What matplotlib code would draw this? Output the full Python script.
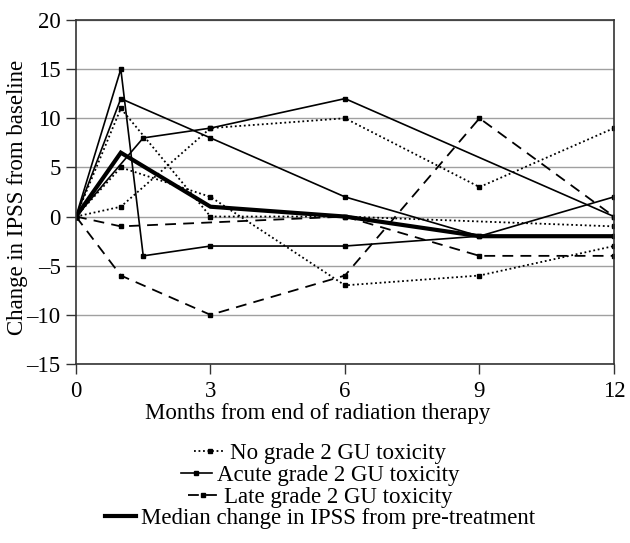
import matplotlib
matplotlib.use("Agg")
import matplotlib.pyplot as plt
from matplotlib.lines import Line2D

plt.rcParams['font.family'] = ['Liberation Serif', 'DejaVu Serif']

# ---- data ----
no_tox_1_x = [0, 1, 3, 6, 12]
no_tox_1_y = [0, 11, 0, 0, -1]
no_tox_2_x = [0, 1, 3, 6, 9, 12]
no_tox_2_y = [0, 5, 2, -7, -6, -3]
no_tox_3_x = [0, 1, 3, 6, 9, 12]
no_tox_3_y = [0, 1, 9, 10, 3, 9]

acute_1_x = [0, 1, 1.5, 3, 6, 9, 12]
acute_1_y = [0, 15, -4, -3, -3, -2, 2]
acute_2_x = [0, 1, 3, 6, 9, 12]
acute_2_y = [0, 12, 8, 2, -2, -2]
acute_3_x = [0, 1.5, 3, 6, 12]
acute_3_y = [0, 8, 9, 12, 0]

late_1_x = [0, 1, 3, 6, 9, 12]
late_1_y = [0, -6, -10, -6, 10, 0]
late_2_x = [0, 1, 6, 9, 12]
late_2_y = [0, -1, 0, -4, -4]

median_x = [0, 1, 3, 6, 9, 12]
median_y = [0, 6.5, 1, 0, -2, -2]

x_ticks = [0, 3, 6, 9, 12]
y_ticks = [-15, -10, -5, 0, 5, 10, 15, 20]
labels = ["No grade 2 GU toxicity", "Acute grade 2 GU toxicity",
          "Late grade 2 GU toxicity", "Median change in IPSS from pre-treatment"]

FS = 16.5

fig = plt.figure(figsize=(6.3, 5.43), dpi=100)
ax = fig.add_axes([0.1206, 0.3297, 0.854, 0.6335])

dot_style = dict(color='black', lw=1.3, linestyle=(0, (1, 1.5)), marker='s', ms=2.8)
sol_style = dict(color='black', lw=1.2, linestyle='-', marker='s', ms=2.8)
dash_style = dict(color='black', lw=1.3, linestyle=(0, (6, 4)), marker='s', ms=2.8)
med_style = dict(color='black', lw=3.0)

for xs, ys in [(no_tox_1_x, no_tox_1_y), (no_tox_2_x, no_tox_2_y), (no_tox_3_x, no_tox_3_y)]:
    ax.plot(xs, ys, **dot_style)
for xs, ys in [(acute_1_x, acute_1_y), (acute_2_x, acute_2_y), (acute_3_x, acute_3_y)]:
    ax.plot(xs, ys, **sol_style)
for xs, ys in [(late_1_x, late_1_y), (late_2_x, late_2_y)]:
    ax.plot(xs, ys, **dash_style)
ax.plot(median_x, median_y, solid_joinstyle='miter', **med_style)

ax.set_xlim(0, 12)
ax.set_ylim(-15, 20)
ax.set_xticks(x_ticks)
ax.set_yticks(y_ticks)
ax.set_yticklabels([str(v).replace('-', '\u2013') for v in y_ticks])
ax.yaxis.grid(True, color='#a0a0a0', lw=1.0)
ax.set_axisbelow(True)
for s in ax.spines.values():
    s.set_color('#333333')
    s.set_linewidth(1.2)
ax.tick_params(direction='out', length=7, width=1.0, color='#333333', labelsize=FS)
ax.tick_params(axis='x', pad=5)
ax.tick_params(axis='y', pad=4)

ax.set_ylabel("Change in IPSS from baseline", fontsize=FS)
ax.yaxis.set_label_coords(-0.109, 0.483)
ax.yaxis.label.set_va('center')
fig.text(0.505, 0.2376, "Months from end of radiation therapy", ha='center', va='center', fontsize=FS)

handles = [
    Line2D([], [], **dot_style),
    Line2D([], [], **sol_style),
    Line2D([], [], **dash_style),
    Line2D([], [], **med_style),
]
row_y = [0.1657, 0.1252, 0.0847, 0.0460]
for h, lab, yy in zip(handles, labels, row_y):
    fig.legend([h], [lab], loc='center', bbox_to_anchor=(0.508, yy),
               frameon=False, fontsize=FS, handlelength=1.35, handletextpad=0.2,
               borderpad=0, borderaxespad=0)

fig.savefig("out.png", dpi=100)
